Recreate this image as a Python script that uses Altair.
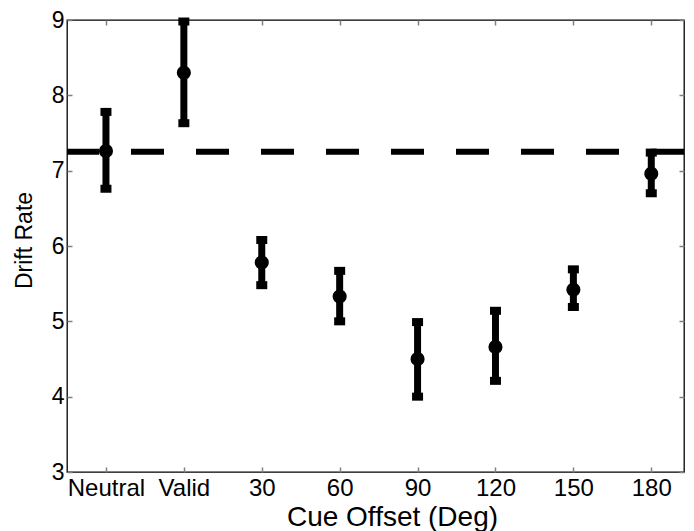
import altair as alt
import pandas as pd

# Data
categories = ["Neutral", "Valid", "30", "60", "90", "120", "150", "180"]
positions = [1, 2, 3, 4, 5, 6, 7, 8]
means = [7.26, 8.30, 5.78, 5.33, 4.50, 4.66, 5.42, 6.96]
upper = [7.78, 8.98, 6.08, 5.67, 4.99, 5.14, 5.69, 7.24]
lower = [6.76, 7.63, 5.48, 5.00, 4.00, 4.21, 5.19, 6.70]
neutral_level = [7.25]
y_ticks = [3, 4, 5, 6, 7, 8, 9]

df = pd.DataFrame({"pos": positions, "cat": categories, "mean": means,
                   "hi": upper, "lo": lower})
ref = pd.DataFrame({"level": neutral_level})

W, H = 617, 452
FONT = "Liberation Sans"
XDOM = [0.5, 8.42]
YDOM = [3, 9]

label_expr = "[" + ",".join("'%s'" % c for c in categories) + "][datum.value - 1]"

xs = alt.Scale(domain=XDOM, nice=False, zero=False)
ys = alt.Scale(domain=YDOM, nice=False, zero=False)

txt = dict(labelFont=FONT, labelColor="black",
           titleFont=FONT, titleFontWeight="normal", titleColor="black")

base = alt.Chart(df)

bars = base.mark_rule(color="black", strokeWidth=7).encode(
    x=alt.X("pos:Q", scale=xs, axis=alt.Axis(
        values=positions, labelExpr=label_expr, ticks=False, domain=False,
        grid=False, labelPadding=4, title="Cue Offset (Deg)", labelFontSize=24,
        titleX=325, titleY=53, titleBaseline="alphabetic", titleFontSize=28,
        titleAlign="center", labelFlush=False, labelOverlap=False, **txt)),
    y=alt.Y("lo:Q", scale=ys, axis=alt.Axis(
        values=y_ticks, ticks=False, domain=False, grid=False, labelPadding=3,
        labelFontSize=23,
        title="Drift Rate", titleX=-43, titleY=220, titleAngle=270,
        titleAlign="center", titleBaseline="middle", titleFontSize=23,
        labelFlush=False, labelOverlap=False, **txt)),
    y2="hi:Q",
)

caps_hi = base.mark_tick(color="black", orient="horizontal", size=11,
                         thickness=8, opacity=1).encode(
    x=alt.X("pos:Q", scale=xs, axis=None),
    y=alt.Y("hi:Q", scale=ys, axis=None),
)
caps_lo = base.mark_tick(color="black", orient="horizontal", size=11,
                         thickness=8, opacity=1).encode(
    x=alt.X("pos:Q", scale=xs, axis=None),
    y=alt.Y("lo:Q", scale=ys, axis=None),
)

dots = base.mark_circle(color="black", size=200, opacity=1).encode(
    x=alt.X("pos:Q", scale=xs, axis=None),
    y=alt.Y("mean:Q", scale=ys, axis=None),
)

dash = alt.Chart(ref).mark_rule(color="black", strokeWidth=6,
                                strokeDash=[33, 32]).encode(
    y=alt.Y("level:Q", scale=ys, axis=None),
)

tick_style = dict(labels=False, domain=False, grid=False, ticks=True,
                  tickSize=5, tickColor="#808080", tickWidth=1.5, title=None)

inner1 = base.mark_circle(opacity=0).encode(
    x=alt.X("pos:Q", scale=xs, axis=alt.Axis(orient="top", offset=-H,
                                             values=positions, **tick_style)),
    y=alt.Y("mean:Q", scale=ys, axis=alt.Axis(orient="right", offset=-W,
                                              values=y_ticks, **tick_style)),
)
inner2 = base.mark_circle(opacity=0).encode(
    x=alt.X("pos:Q", scale=xs, axis=alt.Axis(orient="bottom", offset=-H,
                                             values=positions, **tick_style)),
    y=alt.Y("mean:Q", scale=ys, axis=alt.Axis(orient="left", offset=-W,
                                              values=y_ticks, **tick_style)),
)

chart = alt.layer(bars, inner1, inner2, dash, caps_hi, caps_lo, dots).resolve_scale(
    x="independent", y="independent"
).properties(
    width=W, height=H,
    background="white",
    autosize=alt.AutoSizeParams(type="none"),
    padding={"left": 59, "top": 12, "right": 2, "bottom": 59},
).configure_view(
    stroke="black", strokeWidth=1.3
)

chart.save("out.html", embed_options={"renderer": "svg", "actions": False})
